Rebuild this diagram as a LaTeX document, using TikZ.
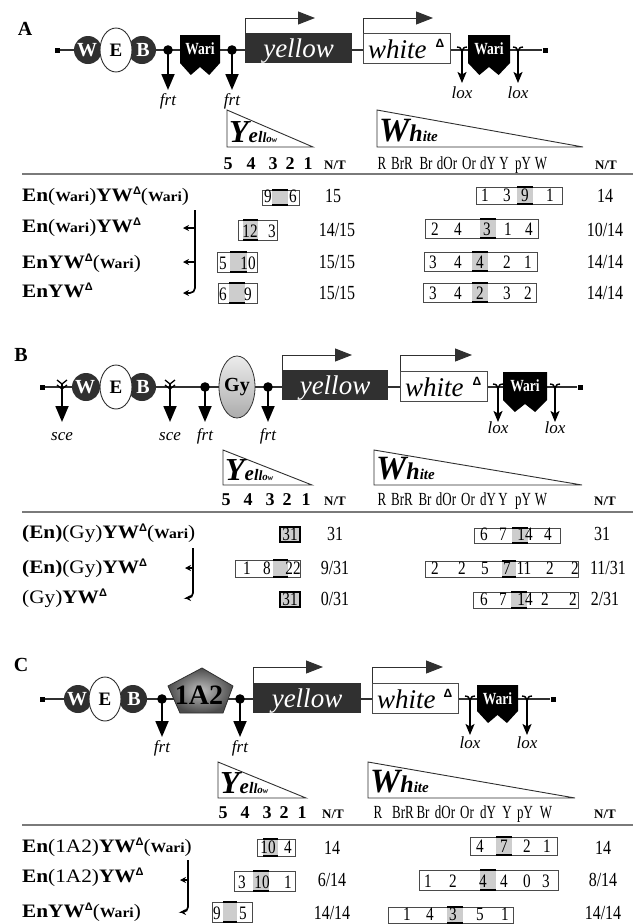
\documentclass[tikz,border=0pt]{standalone}
\usepackage{fontspec}
\setmainfont{Liberation Serif}
\newfontfamily\sansfnt{Liberation Sans}
\newfontfamily\narrowfnt[FakeStretch=0.8]{Liberation Serif}
\newfontfamily\tightfnt[FakeStretch=0.7]{Liberation Serif}
\newfontfamily\widefnt[FakeStretch=1.12]{Liberation Serif}
\usetikzlibrary{shapes.geometric,arrows.meta}
\definecolor{dk}{HTML}{303030}
\definecolor{shd}{HTML}{CDCDCD}
\definecolor{bord}{HTML}{4A4A4A}
\definecolor{rulec}{HTML}{7A7A7A}
\newcommand\dlt{\raisebox{6.5pt}{\sansfnt\bfseries\fontsize{11}{11}\selectfont Δ}}
\newcommand\swari{{\bfseries\fontsize{14}{14}\selectfont Wari}}
\tikzset{
  lbl/.style={font=\fontsize{17}{17}\selectfont\itshape, inner sep=0pt, anchor=base},
  num/.style={font=\narrowfnt\fontsize{19}{19}\selectfont, inner sep=0pt, anchor=base},
  ntnum/.style={font=\narrowfnt\fontsize{20}{20}\selectfont, inner sep=0pt, anchor=base},
  hdr/.style={font=\tightfnt\fontsize{18.5}{18.5}\selectfont, inner sep=0pt, anchor=base},
  hdrb/.style={font=\bfseries\fontsize{18}{18}\selectfont, inner sep=0pt, anchor=base},
  nt/.style={font=\bfseries\fontsize{13}{13}\selectfont, inner sep=0pt, anchor=base},
  rowlbl/.style={font=\widefnt\fontsize{19}{19}\selectfont, inner sep=0pt, anchor=base west},
  panel/.style={font=\bfseries\fontsize{20}{20}\selectfont, inner sep=0pt},
  chrom/.style={draw=dk, line width=1.1},
  frtarr/.style={line width=1.8, -{Triangle[length=16pt,width=13pt]}},
  loxarr/.style={line width=1.6, -{Stealth[length=11pt,width=9pt,inset=2.5pt]}},
  tsarr/.style={line width=0.9, draw=dk, -{Triangle[length=17pt,width=13pt]}},
  brk/.style={line width=1.7, -{Stealth[length=6pt,width=6pt]}},
  term/.style={fill=black, minimum size=5pt, inner sep=0pt},
  hrule/.style={draw=rulec, line width=1.1},
}
% name, x, y(line), tipy, label baseline
\newcommand\frtsite[5]{%
  \coordinate (#1t) at (#2,#3);
  \coordinate (#1b) at (#2,#4);
  \draw[frtarr] (#1t) -- (#1b);
  \fill[black] (#1t) circle (4.8);
  \node[lbl] (#1) at (#2,#5) {frt};
}
\newcommand\loxsite[5]{%
  \coordinate (#1t) at (#2,#3+1);
  \coordinate (#1b) at (#2,#4);
  \draw[loxarr] (#1t) -- (#1b);
  \draw[line width=1.4] (#2-5,#3-3) .. controls (#2-1.5,#3-2.5) .. (#2,#3+2) .. controls (#2+1.5,#3-2.5) .. (#2+5,#3-3);
  \node[lbl] (#1) at (#2,#5) {lox};
}
\newcommand\scesite[5]{%
  \coordinate (#1t) at (#2,#3-3);
  \coordinate (#1b) at (#2,#4);
  \draw[frtarr] (#1t) -- (#1b);
  \draw[line width=1.3] (#2-5,#3-7) -- (#2,#3-3) -- (#2+5,#3-7) (#2-5,#3-2) -- (#2,#3+2) -- (#2+5,#3-2);
  \node[lbl] (#1) at (#2,#5) {sce};
}
% name, x0, w, top, h
\newcommand\wari[5]{%
  \fill[black] (#2,#4) -- (#2+#3,#4) -- (#2+#3,#4+#5) -- (#2+0.73*#3,#4+#5+12) -- (#2+0.5*#3,#4+#5+4) -- (#2+0.27*#3,#4+#5+12) -- (#2,#4+#5) -- cycle;
  \node[font=\narrowfnt\bfseries\fontsize{17}{17}\selectfont, text=white, inner sep=0pt] (#1) at (#2+0.5*#3,#4+14) {Wari};
}
% prefix, xW, xE, xB, y
\newcommand\web[5]{%
  \fill[dk] (#2,#5) circle (14);
  \fill[dk] (#4,#5) circle (14);
  \filldraw[fill=white, draw=dk, line width=0.9] (#3,#5) ellipse (16 and 22);
  \node[font=\bfseries\fontsize{20}{20}\selectfont, text=white, inner sep=0pt] (#1W) at (#2-1,#5) {W};
  \node[font=\bfseries\fontsize{19}{19}\selectfont, inner sep=0pt] (#1E) at (#3,#5) {E};
  \node[font=\bfseries\fontsize{20}{20}\selectfont, text=white, inner sep=0pt] (#1B) at (#4+1,#5) {B};
}
% name x1 x2 top bot arrowy tipx
\newcommand\ybox[7]{%
  \fill[dk] (#2,#4) rectangle (#3,#5);
  \node[font=\itshape\fontsize{27}{27}\selectfont, text=white, inner sep=0pt, anchor=base] (#1) at ({(#2+#3)/2},#5-6) {yellow};
  \coordinate (#1a) at (#2,#4);
  \coordinate (#1b) at (#2,#6);
  \coordinate (#1c) at (#7,#6);
  \draw[tsarr] (#1a) -- (#1b) -- (#1c);
}
\newcommand\wbox[7]{%
  \filldraw[fill=white, draw=bord, line width=0.9] (#2,#4) rectangle (#3,#5);
  \node[font=\itshape\fontsize{27}{27}\selectfont, inner sep=0pt, anchor=base west] (#1) at (#2+5,#5-5) {white};
  \node[font=\sansfnt\bfseries\fontsize{12}{12}\selectfont, inner sep=0pt] (#1d) at (#3-10,#4+10) {Δ};
  \coordinate (#1a) at (#2,#4);
  \coordinate (#1b) at (#2,#6);
  \coordinate (#1c) at (#7,#6);
  \draw[tsarr] (#1a) -- (#1b) -- (#1c);
}
% name x top bot right
\newcommand\ytri[5]{%
  \filldraw[draw=dk, fill=white, line width=0.9] (#2,#3) -- (#2,#4) -- (#5,#4) -- cycle;
  \node[anchor=base west, inner sep=0pt] (#1) at (#2+2,#4-5) {\bfseries\itshape\fontsize{32}{32}\selectfont Y\fontsize{21}{21}\selectfont e\fontsize{16}{16}\selectfont l\fontsize{14}{14}\selectfont l\fontsize{11}{11}\selectfont o\fontsize{8}{8}\selectfont w};
}
\newcommand\wtri[5]{%
  \filldraw[draw=dk, fill=white, line width=0.9] (#2,#3) -- (#2,#4) -- (#5,#4) -- cycle;
  \node[anchor=base west, inner sep=0pt] (#1) at (#2+2,#4-6) {\bfseries\itshape\fontsize{34}{34}\selectfont W\fontsize{24}{24}\selectfont h\fontsize{15}{15}\selectfont ite};
}
% name x1 y1 x2 y2 sx1 sx2 list
\newcommand\dbox[8]{%
  \fill[shd] (#6,#3) rectangle (#7,#5);
  \coordinate (#1nw) at (#2,#3);
  \coordinate (#1se) at (#4,#5);
  \draw[bord, line width=0.8] (#1nw) rectangle (#1se);
  \draw[black, line width=2.2] (#6,#3) -- (#7,#3) (#6,#5) -- (#7,#5);
  \foreach \xx/\tt [count=\ii] in {#8} {\node[num] (#1n\ii) at (\xx,#5-2.5) {\tt};}
}
\newcommand\fullbox[6]{%
  \coordinate (#1nw) at (#2,#3);
  \coordinate (#1se) at (#4,#5);
  \filldraw[fill=shd, draw=black, line width=1.5] (#1nw) rectangle (#1se);
  \node[num] (#1n) at ({(#2+#4)/2},#5-2) {#6};
}
\begin{document}
\begin{tikzpicture}[x=1pt,y=-1pt]
\fill[white] (0,0) rectangle (635,924);
\useasboundingbox (0,0) rectangle (635,924);

%%%%%%%%%%%%%%%% PANEL A
\node[panel] (pA) at (25,29) {A};
\node[term] (AL) at (57,50) {};
\node[term] (AR) at (545,50) {};
\draw[chrom] (AL) -- (AR);
\web{A}{88}{116}{142}{50}
\frtsite{Af1}{168}{50}{90}{105}
\wari{Aw1}{180}{40}{35}{28}
\frtsite{Af2}{232}{50}{90}{105}
\ybox{Ay}{245}{352}{33}{63}{18}{315}
\wbox{Awh}{363}{450}{33}{63}{18}{433}
\loxsite{Al1}{462}{50}{83}{98}
\wari{Aw2}{468}{42}{35}{28}
\loxsite{Al2}{518}{50}{83}{98}

\ytri{Aty}{227}{110}{147}{313}
\wtri{Atw}{377}{110}{147}{583}
\foreach \xx/\tt [count=\ii] in {228/5,251/4,273/3,290/2,308/1} {\node[hdrb] (Ayh\ii) at (\xx,169) {\tt};}
\node[nt] (Ant1) at (335,169) {N/T};
\foreach \xx/\tt [count=\ii] in {382/R,402/BrR,426/Br,447/dOr,469/Or,488/dY,504/Y,523/pY,541/W} {\node[hdr] (Awh\ii) at (\xx,169) {\tt};}
\node[nt] (Ant2) at (606,169) {N/T};
\coordinate (Ar0) at (22,174); \coordinate (Ar9) at (633,174);
\draw[hrule] (Ar0) -- (Ar9);

\node[rowlbl] (Ar1) at (22,201) {\textbf{En}(\swari)\textbf{YW}\dlt(\swari)};
\node[rowlbl] (Ar2) at (22,232) {\textbf{En}(\swari)\textbf{YW}\dlt};
\node[rowlbl] (Ar3) at (22,268) {\textbf{EnYW}\dlt(\swari)};
\node[rowlbl] (Ar4) at (22,297) {\textbf{EnYW}\dlt};

\dbox{Ay1}{262}{190}{299}{205}{272}{288}{268/9,293/6}
\dbox{Ay2}{238}{220}{277}{240}{243}{258}{250/12,272/3}
\dbox{Ay3}{217}{252}{257}{272}{230}{247}{223/5,248/10}
\dbox{Ay4}{218}{283}{257}{303}{229}{245}{223/6,248/9}
\node[ntnum] (Aq1) at (333,202) {15};
\node[ntnum] (Aq2) at (337,236) {14/15};
\node[ntnum] (Aq3) at (337,268) {15/15};
\node[ntnum] (Aq4) at (337,299) {15/15};
\dbox{Aw1b}{476}{187}{562}{204}{517}{533}{485/1,507/3,525/9,550/1}
\dbox{Aw2b}{425}{219}{538}{238}{480}{496}{435/2,458/4,487/3,508/1,529/4}
\dbox{Aw3b}{424}{252}{537}{271}{472}{488}{433/3,458/4,480/4,507/2,528/1}
\dbox{Aw4b}{423}{283}{536}{302}{472}{488}{433/3,458/4,480/2,507/3,528/2}
\node[ntnum] (Ap1) at (605,202) {14};
\node[ntnum] (Ap2) at (605,236) {10/14};
\node[ntnum] (Ap3) at (605,268) {14/14};
\node[ntnum] (Ap4) at (605,299) {14/14};

\coordinate (Abt) at (195,210); \coordinate (Abe) at (183,293);
\draw[brk, rounded corners=5pt] (Abt) |- (Abe);
\coordinate (Ab2s) at (195,228); \coordinate (Ab2e) at (183,228);
\draw[brk] (Ab2s) -- (Ab2e);
\coordinate (Ab3s) at (195,262); \coordinate (Ab3e) at (183,262);
\draw[brk] (Ab3s) -- (Ab3e);

%%%%%%%%%%%%%%%% PANEL B
\node[panel] (pB) at (21,355) {B};
\node[term] (BL) at (42,387) {};
\node[term] (BR) at (580,387) {};
\draw[chrom] (BL) -- (BR);
\scesite{Bs1}{62}{387}{422}{440}
\web{B}{86}{116}{142}{387}
\scesite{Bs2}{170}{387}{422}{440}
\frtsite{Bf1}{205}{387}{422}{440}
\shadedraw[draw=dk, line width=0.8, top color=gray!15, bottom color=gray!65] (237,387) ellipse (18 and 31);
\node[font=\bfseries\fontsize{20}{20}\selectfont, inner sep=0pt] (BGy) at (237,387) {Gy};
\frtsite{Bf2}{268}{387}{422}{440}
\ybox{By}{282}{388}{370}{400}{355}{352}
\wbox{Bwh}{400}{487}{371}{401}{355}{472}
\loxsite{Bl1}{498}{387}{422}{433}
\wari{Bw1}{503}{44}{372}{28}
\loxsite{Bl2}{555}{387}{422}{433}

\ytri{Bty}{223}{450}{485}{312}
\wtri{Btw}{374}{450}{485}{582}
\foreach \xx/\tt [count=\ii] in {226/5,248/4,270/3,287/2,306/1} {\node[hdrb] (Byh\ii) at (\xx,505) {\tt};}
\node[nt] (Bnt1) at (335,505) {N/T};
\foreach \xx/\tt [count=\ii] in {382/R,402/BrR,425/Br,446/dOr,468/Or,488/dY,503/Y,523/pY,541/W} {\node[hdr] (Bwh\ii) at (\xx,505) {\tt};}
\node[nt] (Bnt2) at (605,505) {N/T};
\coordinate (Br0) at (22,512); \coordinate (Br9) at (633,512);
\draw[hrule] (Br0) -- (Br9);

\node[rowlbl] (Br1) at (22,538) {\textbf{(En)}(Gy)\textbf{YW}\dlt(\swari)};
\node[rowlbl] (Br2) at (22,573) {\textbf{(En)}(Gy)\textbf{YW}\dlt};
\node[rowlbl] (Br3) at (22,603) {(Gy)\textbf{YW}\dlt};

\fullbox{By1}{280}{527}{300}{542}{31}
\dbox{By2}{235}{560}{300}{577}{273}{288}{247/1,267/8,293/22}
\fullbox{By3}{280}{592}{300}{607}{31}
\node[ntnum] (Bq1) at (335,540) {31};
\node[ntnum] (Bq2) at (335,574) {9/31};
\node[ntnum] (Bq3) at (335,605) {0/31};
\dbox{Bw1b}{474}{528}{560}{543}{512}{528}{484/6,503/7,525/14,548/4}
\dbox{Bw2b}{425}{561}{578}{577}{502}{516}{435/2,462/2,485/5,507/7,524/11,550/2,575/2}
\dbox{Bw3b}{473}{592}{578}{608}{511}{527}{484/6,503/7,525/14,545/2,573/2}
\node[ntnum] (Bp1) at (602,540) {31};
\node[ntnum] (Bp2) at (608,574) {11/31};
\node[ntnum] (Bp3) at (605,605) {2/31};

\coordinate (Bbt) at (193,548); \coordinate (Bbe) at (185,598);
\draw[brk, rounded corners=5pt] (Bbt) |- (Bbe);
\coordinate (Bb2s) at (193,568); \coordinate (Bb2e) at (185,568);
\draw[brk] (Bb2s) -- (Bb2e);

%%%%%%%%%%%%%%%% PANEL C
\node[panel] (pC) at (21,665) {C};
\node[term] (CL) at (42,699) {};
\node[term] (CR) at (553,699) {};
\draw[chrom] (CL) -- (CR);
\web{C}{78}{105}{133}{699}
\frtsite{Cf1}{162}{699}{737}{752}
\shadedraw[draw=dk, line width=0.8, inner color=gray!50, outer color=black!70] (202,668) -- (233,686) -- (223,713) -- (180,713) -- (168,686) -- cycle;
\node[font=\bfseries\fontsize{28}{28}\selectfont, inner sep=0pt] (C1A2) at (199,695) {1A2};
\frtsite{Cf2}{240}{699}{737}{752}
\ybox{Cy}{253}{361}{683}{713}{667}{323}
\wbox{Cwh}{372}{458}{683}{713}{667}{443}
\loxsite{Cl1}{470}{699}{735}{748}
\wari{Cw1}{477}{41}{685}{26}
\loxsite{Cl2}{527}{699}{735}{748}

\ytri{Cty}{218}{762}{798}{306}
\wtri{Ctw}{368}{762}{798}{575}
\foreach \xx/\tt [count=\ii] in {223/5,245/4,267/3,284/2,302/1} {\node[hdrb] (Cyh\ii) at (\xx,818) {\tt};}
\node[nt] (Cnt1) at (333,818) {N/T};
\foreach \xx/\tt [count=\ii] in {378/R,403/BrR,423/Br,445/dOr,467/Or,488/dY,507/Y,525/pY,546/W} {\node[hdr] (Cwh\ii) at (\xx,818) {\tt};}
\node[nt] (Cnt2) at (605,818) {N/T};
\coordinate (Cr0) at (22,825); \coordinate (Cr9) at (633,825);
\draw[hrule] (Cr0) -- (Cr9);

\node[rowlbl] (Cr1) at (22,852) {\textbf{En}(1A2)\textbf{YW}\dlt(\swari)};
\node[rowlbl] (Cr2) at (22,882) {\textbf{En}(1A2)\textbf{YW}\dlt};
\node[rowlbl] (Cr3) at (22,917) {\textbf{EnYW}\dlt(\swari)};

\dbox{Cy1}{257}{839}{295}{856}{263}{278}{268/10,288/4}
\dbox{Cy2}{234}{871}{295}{891}{253}{269}{242/3,262/10,288/1}
\dbox{Cy3}{212}{902}{252}{922}{223}{237}{217/9,243/5}
\node[ntnum] (Cq1) at (332,854) {14};
\node[ntnum] (Cq2) at (332,886) {6/14};
\node[ntnum] (Cq3) at (332,919) {14/14};
\dbox{Cw1b}{470}{837}{557}{855}{496}{512}{480/4,504/7,527/2,547/1}
\dbox{Cw2b}{419}{870}{558}{890}{480}{496}{428/1,453/2,483/4,504/4,527/0,546/3}
\dbox{Cw3b}{388}{907}{513}{923}{447}{463}{407/1,430/4,453/3,480/5,505/1}
\node[ntnum] (Cp1) at (603,854) {14};
\node[ntnum] (Cp2) at (603,886) {8/14};
\node[ntnum] (Cp3) at (603,919) {14/14};

\coordinate (Cbt) at (188,860); \coordinate (Cbe) at (180,912);
\draw[brk, rounded corners=5pt] (Cbt) |- (Cbe);
\coordinate (Cb2s) at (188,880); \coordinate (Cb2e) at (180,880);
\draw[brk] (Cb2s) -- (Cb2e);
\end{tikzpicture}
\end{document}
